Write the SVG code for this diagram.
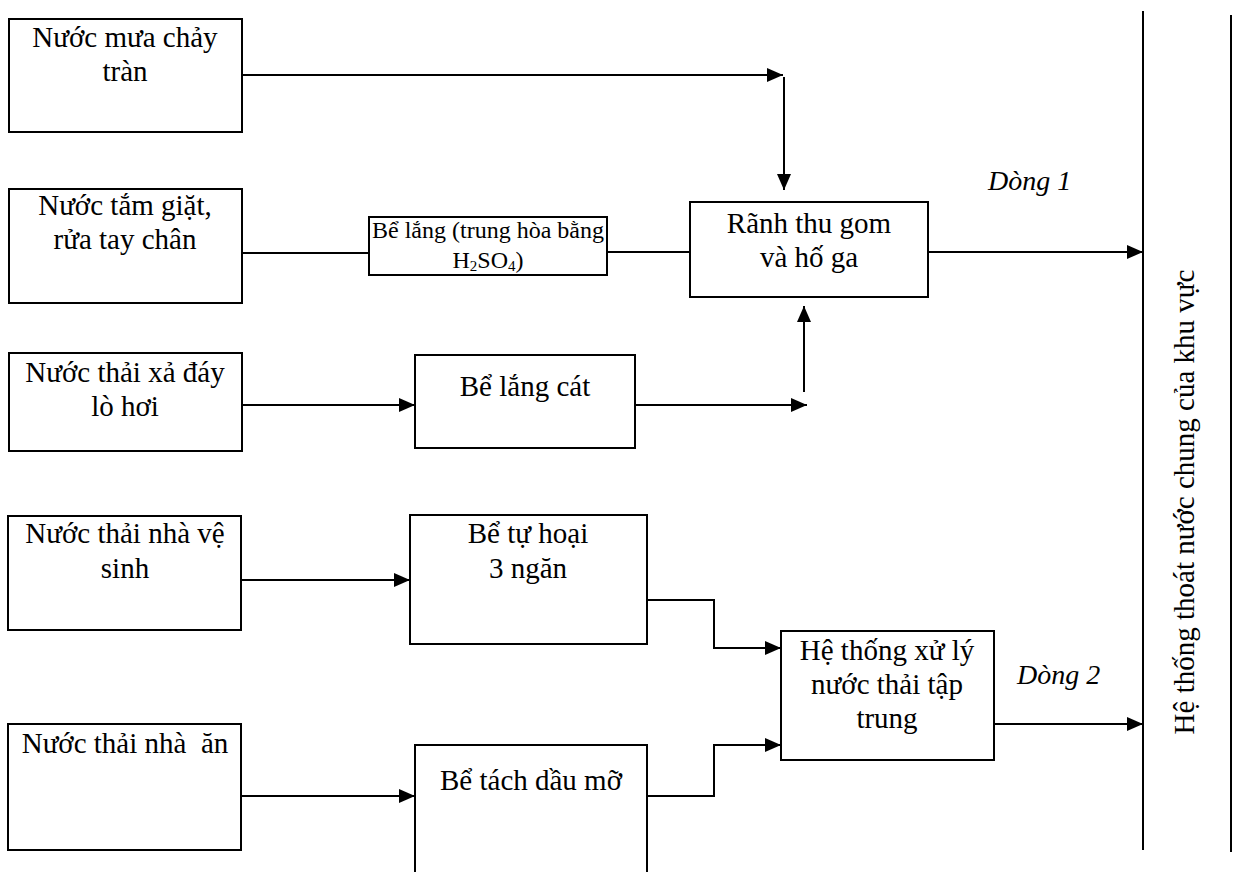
<svg xmlns="http://www.w3.org/2000/svg" width="1233" height="872" viewBox="0 0 1233 872" font-family="'Liberation Serif', 'Times New Roman', serif">
<style>
.box{fill:#fff;stroke:#000;stroke-width:2}
.ln{fill:none;stroke:#000;stroke-width:2}
text{font-family:'Liberation Serif','Times New Roman',serif;font-size:29px;fill:#000;text-anchor:middle}
text.s{font-size:24px}
text.i{font-style:italic;font-size:28px;text-anchor:start}
</style>
<defs>
<marker id="ah" markerUnits="userSpaceOnUse" markerWidth="16" markerHeight="14" refX="16" refY="7" orient="auto">
<path d="M0,0 L16,7 L0,14 z" fill="#000"/>
</marker>
</defs>
<rect width="1233" height="872" fill="#fff"/>
<g id="connectors">
<line class="ln" x1="242" y1="75" x2="783" y2="75" marker-end="url(#ah)"/>
<line class="ln" x1="784" y1="77" x2="784" y2="190" marker-end="url(#ah)"/>
<line class="ln" x1="242" y1="253" x2="369" y2="253"/>
<line class="ln" x1="607" y1="252" x2="690" y2="252"/>
<line class="ln" x1="242" y1="405" x2="415" y2="405" marker-end="url(#ah)"/>
<line class="ln" x1="635" y1="405" x2="807" y2="405" marker-end="url(#ah)"/>
<line class="ln" x1="804" y1="392" x2="804" y2="306" marker-end="url(#ah)"/>
<line class="ln" x1="928" y1="252" x2="1143" y2="252" marker-end="url(#ah)"/>
<line class="ln" x1="241" y1="580" x2="410" y2="580" marker-end="url(#ah)"/>
<line class="ln" x1="241" y1="796" x2="415" y2="796" marker-end="url(#ah)"/>
<polyline class="ln" points="647,600 714,600 714,648 781,648" marker-end="url(#ah)"/>
<polyline class="ln" points="647,796 714,796 714,745 781,745" marker-end="url(#ah)"/>
<line class="ln" x1="994" y1="724" x2="1143" y2="724" marker-end="url(#ah)"/>
<line class="ln" x1="1143" y1="11" x2="1143" y2="850"/>
<line class="ln" x1="1231" y1="15" x2="1231" y2="852"/>
</g>
<g id="n1"><rect class="box" x="9" y="19" width="233" height="113"/>
<text x="125" y="47">Nước mưa chảy</text><text x="125" y="81">tràn</text></g>
<g id="n2"><rect class="box" x="9" y="189" width="233" height="114"/>
<text x="125" y="215">Nước tắm giặt,</text><text x="125" y="249">rửa tay chân</text></g>
<g id="n3"><rect class="box" x="9" y="353" width="233" height="98"/>
<text x="125" y="382">Nước thải xả đáy</text><text x="125" y="416">lò hơi</text></g>
<g id="n4"><rect class="box" x="8" y="516" width="233" height="114"/>
<text x="125" y="543">Nước thải nhà vệ</text><text x="125" y="578">sinh</text></g>
<g id="n5"><rect class="box" x="8" y="724" width="233" height="126"/>
<text x="125" y="753" xml:space="preserve">Nước thải nhà  ăn</text></g>
<g id="n6"><rect class="box" x="369" y="217" width="238" height="58"/>
<text class="s" x="488" y="238">Bể lắng (trung hòa bằng</text>
<text class="s" x="488" y="268">H<tspan font-size="15" dy="3">2</tspan><tspan dy="-3">SO</tspan><tspan font-size="15" dy="3">4</tspan><tspan dy="-3">)</tspan></text></g>
<g id="n7"><rect class="box" x="415" y="355" width="220" height="93"/>
<text x="525" y="396">Bể lắng cát</text></g>
<g id="n8"><rect class="box" x="690" y="202" width="238" height="95"/>
<text x="809" y="233">Rãnh thu gom</text><text x="809" y="267">và hố ga</text></g>
<g id="n9"><rect class="box" x="410" y="515" width="237" height="129"/>
<text x="528" y="543">Bể tự hoại</text><text x="528" y="578">3 ngăn</text></g>
<g id="n10"><rect class="box" x="415" y="745" width="232" height="140"/>
<text x="531" y="790">Bể tách dầu mỡ</text></g>
<g id="n11"><rect class="box" x="781" y="631" width="213" height="129"/>
<text x="887" y="660">Hệ thống xử lý</text><text x="887" y="694">nước thải tập</text><text x="887" y="728">trung</text></g>
<g id="labels">
<text class="i" x="988" y="190">Dòng 1</text>
<text class="i" x="1017" y="684">Dòng 2</text>
<text x="1194" y="502" transform="rotate(-90 1194 502)">Hệ thống thoát nước chung của khu vực</text>
</g>
</svg>
